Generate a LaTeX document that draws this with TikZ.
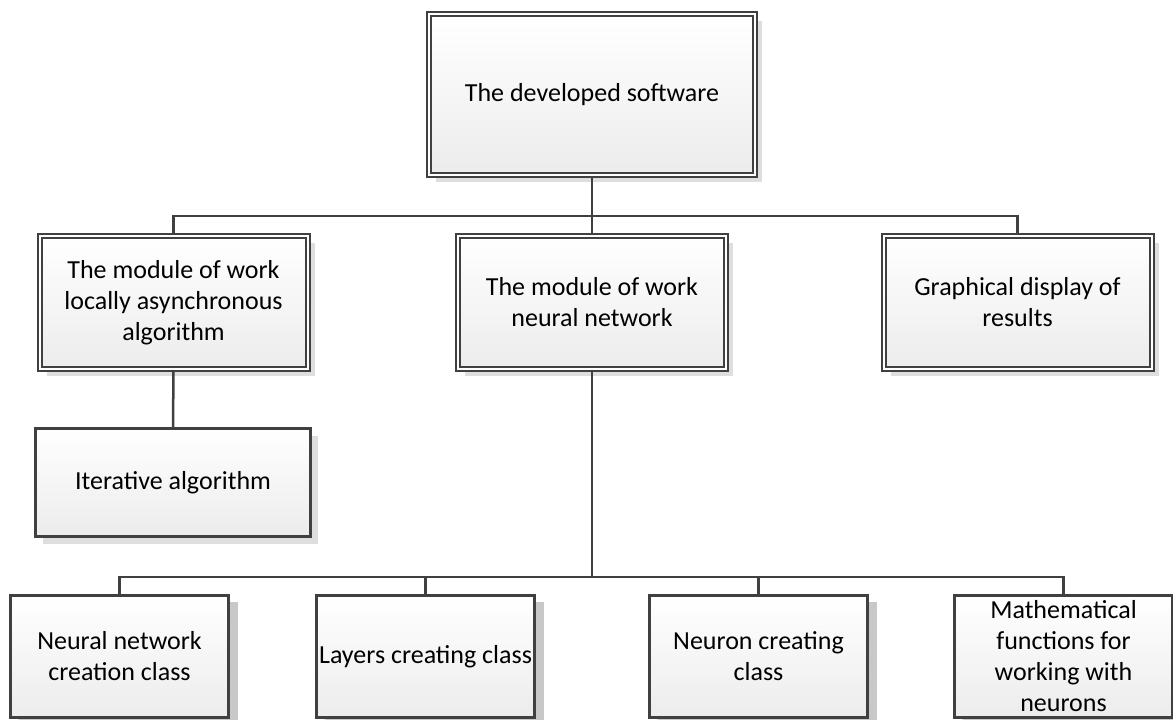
\documentclass[tikz,border=0pt]{standalone}
\usepackage{fontspec}
\setmainfont{Carlito}
\usetikzlibrary{positioning,shadows}
\definecolor{boxline}{RGB}{64,64,64}
\definecolor{boxfill}{RGB}{236,236,236}
\definecolor{shadowlight}{RGB}{222,222,222}
\definecolor{shadowdark}{RGB}{200,200,200}

\begin{document}
\begin{tikzpicture}[x=1pt, y=1pt,
    dblbox/.style={rectangle, draw=boxline, line width=2pt, double=white, double distance=2pt,
                   top color=white, bottom color=boxfill, align=center, inner sep=0pt,
                   font=\fontsize{26}{31}\selectfont,
                   drop shadow={shadow xshift=7pt, shadow yshift=-7pt, fill=shadowlight, opacity=1}},
    modbox/.style={dblbox, minimum width=268, minimum height=133},
    itbox/.style={rectangle, draw=boxline, line width=2.5pt,
                  top color=white, bottom color=boxfill, align=center, inner sep=0pt,
                  font=\fontsize{26}{31}\selectfont,
                  minimum width=275, minimum height=108,
                  drop shadow={shadow xshift=7pt, shadow yshift=-7pt, fill=shadowlight, opacity=1}},
    classbox/.style={itbox, minimum width=218, minimum height=122,
                     drop shadow={shadow xshift=9pt, shadow yshift=-6pt, fill=shadowdark, opacity=1}},
    link/.style={draw=boxline, line width=2.5pt}
  ]
    \useasboundingbox (0,0) rectangle (1173,-720);

    % root
    \node[dblbox, minimum width=326, minimum height=161] (soft) at (592,-94.5) {The developed software};

    % second level
    \node[modbox] (modlaa) at (173.5,-302.5) {The module of work\\locally asynchronous\\algorithm};
    \node[modbox] (modnn)  at (592,-302.5)   {The module of work\\neural network};
    \node[modbox] (graph)  at (1017.5,-302.5) {Graphical display of\\results};

    % under the asynchronous module
    \node[itbox] (iter) at (173,-482.5) {Iterative algorithm};

    % classes of the neural network module
    \node[classbox] (nncls)  at (119.5,-656.5)  {Neural network\\creation class};
    \node[classbox] (laycls) at (425.5,-656.5)  {Layers creating class};
    \node[classbox] (neucls) at (758.5,-656.5)  {Neuron creating\\class};
    \node[classbox] (mathfn) at (1063.5,-656.5) {Mathematical\\functions for\\working with\\neurons};

    % connectors
    \coordinate (bustop) at (592,-216);
    \coordinate (busbot) at (592,-577);
    \draw[link] (soft.south) -- (bustop);
    \draw[link] (modlaa.north) |- (bustop) -| (graph.north);
    \draw[link] (bustop) -- (modnn.north);
    \draw[link] (modlaa.south) -- (iter.north);
    \draw[link] (modnn.south) -- (busbot);
    \draw[link] (nncls.north) |- (busbot) -| (mathfn.north);
    \draw[link] (laycls.north) |- (busbot);
    \draw[link] (neucls.north) |- (busbot);
  \end{tikzpicture}
\end{document}
